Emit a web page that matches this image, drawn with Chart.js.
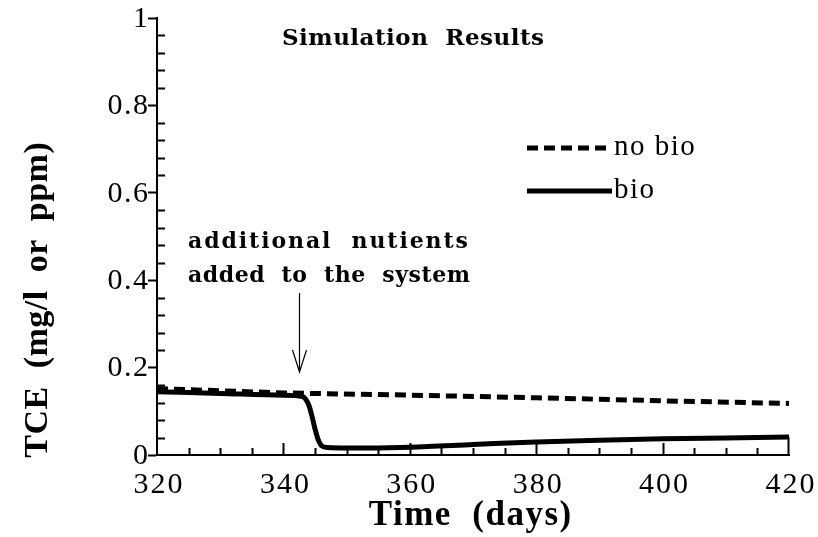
<!DOCTYPE html>
<html>
<head>
<meta charset="utf-8">
<script src="https://cdn.jsdelivr.net/npm/chart.js@4"></script>
<style>
  html, body { margin: 0; padding: 0; background: #fff; }
  #wrap { width: 818px; height: 537px; position: relative; }
</style>
</head>
<body>
<div id="wrap"><canvas id="tce-chart"></canvas></div>
<script>
// values
const noBioDays = [320, 340, 360, 380, 400, 420];
const noBioTCE = [0.152, 0.142, 0.137, 0.131, 0.124, 0.118];

const bioDays = [320, 330, 340, 343, 344, 344.5, 345, 345.5, 346, 347, 350, 360, 370, 380, 390, 400, 410, 420];
const bioTCE = [0.145, 0.141, 0.137, 0.134, 0.115, 0.09, 0.06, 0.035, 0.022, 0.017, 0.016, 0.018, 0.024, 0.030, 0.034, 0.037, 0.039, 0.041];

const xTickLabels = ['320', '340', '360', '380', '400', '420'];
const yTickLabels = ['0', '0.2', '0.4', '0.6', '0.8', '1'];
const seriesLabels = ['no bio', 'bio'];
const chartTitle = 'Simulation  Results';
const noteLines = ['additional  nutients', 'added  to  the  system'];
const noteDay = 342.5;
const xTitle = 'Time  (days)';
const yTitle = 'TCE  (mg/l  or  ppm)';

const SERIF = '"Liberation Serif", "DejaVu Serif", serif';
const WIDE_SERIF = '"DejaVu Serif", "Liberation Serif", serif';

const toPoints = (xs, ys) => xs.map((x, i) => ({ x, y: ys[i] }));

// text with letter spacing, trailing gap removed for alignment
function spaced(ctx, text, x, y, sp, align) {
    ctx.letterSpacing = sp + 'px';
    const w = ctx.measureText(text).width - sp;
    let sx = x;
    if (align === 'center') sx = x - w / 2;
    else if (align === 'right') sx = x - w;
    ctx.textAlign = 'left';
    ctx.fillText(text, sx, y);
    ctx.letterSpacing = '0px';
}

// left-aligned text stretched to a given width by letter spacing
function fitted(ctx, text, x, y, width) {
    ctx.letterSpacing = '0px';
    const w = ctx.measureText(text).width;
    const sp = Math.max(-1, (width - w) / (text.length - 1));
    spaced(ctx, text, x, y, sp, 'left');
}

// extra drawing: tick labels, minor ticks, title, note + arrow, legend, axis titles
const extras = {
    id: 'extras',
    afterDraw(chart) {
        const { ctx, chartArea: a, scales: { x, y } } = chart;
        ctx.save();
        ctx.strokeStyle = '#000';
        ctx.fillStyle = '#000';
        ctx.textBaseline = 'middle';

        // tick labels
        ctx.font = '30px ' + SERIF;
        x.ticks.forEach((t, i) => {
            spaced(ctx, xTickLabels[i], x.getPixelForValue(t.value) + 1, 485, 2, 'center');
        });
        y.ticks.forEach((t, i) => {
            spaced(ctx, yTickLabels[i], a.left - 9, y.getPixelForValue(t.value) + 1, 1.5, 'right');
        });

        // y minor ticks (inward)
        ctx.lineWidth = 2;
        for (let v = 0.04; v < 1; v += 0.04) {
            if (Math.abs(v * 5 - Math.round(v * 5)) < 1e-6) continue;
            const py = Math.round(y.getPixelForValue(v)) + 0.5;
            ctx.beginPath();
            ctx.moveTo(a.left, py);
            ctx.lineTo(a.left + 8, py);
            ctx.stroke();
        }
        // x ticks (inward), major every 20, minor every 5
        for (let d = 325; d <= 415; d += 5) {
            const px = Math.round(x.getPixelForValue(d)) + 0.5;
            const len = d % 20 === 0 ? 12 : 7;
            ctx.beginPath();
            ctx.moveTo(px, a.bottom);
            ctx.lineTo(px, a.bottom - len);
            ctx.stroke();
        }
        // right end stub at 420
        const rx = Math.round(x.getPixelForValue(420)) - 0.5;
        ctx.beginPath();
        ctx.moveTo(rx, a.bottom);
        ctx.lineTo(rx, y.getPixelForValue(bioTCE[bioTCE.length - 1]));
        ctx.stroke();

        // chart title
        ctx.font = 'bold 23px ' + WIDE_SERIF;
        fitted(ctx, chartTitle, 282, 39, 262);

        // note
        ctx.font = 'bold 22px ' + WIDE_SERIF;
        fitted(ctx, noteLines[0], 188, 242, 280);
        fitted(ctx, noteLines[1], 188, 276, 282);

        // arrow
        const ax = Math.round(x.getPixelForValue(noteDay)) + 0.5;
        const ay0 = 293;
        const ay1 = y.getPixelForValue(0.19);
        ctx.lineWidth = 1.2;
        ctx.beginPath();
        ctx.moveTo(ax, ay0);
        ctx.lineTo(ax, ay1);
        ctx.moveTo(ax - 7, ay1 - 22);
        ctx.lineTo(ax, ay1);
        ctx.lineTo(ax + 7, ay1 - 22);
        ctx.stroke();

        // legend
        chart.data.datasets.forEach((ds, i) => {
            const ly = 148 + i * 43;
            ctx.lineWidth = ds.borderWidth;
            ctx.setLineDash(ds.borderDash || []);
            ctx.strokeStyle = ds.borderColor;
            ctx.beginPath();
            ctx.moveTo(527, ly);
            ctx.lineTo(612, ly);
            ctx.stroke();
            ctx.setLineDash([]);
            ctx.font = '29px ' + SERIF;
            spaced(ctx, ds.label, 614, ly - 1, 1.5, 'left');
        });

        // axis titles
        ctx.font = 'bold 35px ' + SERIF;
        spaced(ctx, xTitle, (a.left + a.right) / 2 - 3, 516, 1.5, 'center');
        ctx.font = 'bold 34px ' + SERIF;
        ctx.translate(38, 300);
        ctx.rotate(-Math.PI / 2);
        spaced(ctx, yTitle, 0, 0, 0.5, 'center');
        ctx.restore();
    }
};

new Chart(document.getElementById('tce-chart'), {
    type: 'line',
    data: {
        datasets: [
            {
                label: seriesLabels[0],
                data: toPoints(noBioDays, noBioTCE),
                borderColor: '#000',
                borderWidth: 5,
                borderDash: [11, 6],
                pointRadius: 0,
                tension: 0
            },
            {
                label: seriesLabels[1],
                data: toPoints(bioDays, bioTCE),
                borderColor: '#000',
                borderWidth: 5,
                pointRadius: 0,
                cubicInterpolationMode: 'monotone'
            }
        ]
    },
    options: {
        responsive: true,
        maintainAspectRatio: false,
        animation: false,
        layout: { padding: { top: 18, right: 29, left: 0, bottom: 0 } },
        plugins: { legend: { display: false }, tooltip: { enabled: false } },
        scales: {
            x: {
                type: 'linear',
                min: 320,
                max: 420,
                grid: { display: false },
                border: { color: '#000', width: 2 },
                ticks: { stepSize: 20, display: false },
                afterFit(scale) { scale.height = 82; }
            },
            y: {
                min: 0,
                max: 1,
                grid: {
                    drawOnChartArea: false,
                    tickLength: 9,
                    tickWidth: 2,
                    tickColor: '#000'
                },
                border: { color: '#000', width: 2 },
                ticks: { stepSize: 0.2, display: false },
                afterFit(scale) { scale.width = 157; }
            }
        }
    },
    plugins: [extras]
});
</script>
</body>
</html>
